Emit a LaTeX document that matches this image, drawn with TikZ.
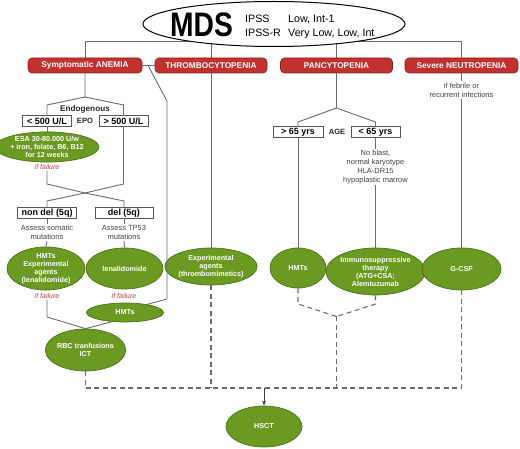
\documentclass[tikz,border=0pt]{standalone}
\usepackage{fontspec}
\setmainfont{Liberation Sans}
\usepackage{graphicx}
\usetikzlibrary{shapes.geometric,arrows.meta,backgrounds}
\definecolor{redf}{HTML}{C0312F}
\definecolor{redd}{HTML}{8E1F1D}
\definecolor{greenf}{HTML}{6B9A22}
\definecolor{greend}{HTML}{4B7216}
\definecolor{lineg}{HTML}{6A6A72}
\definecolor{boxg}{HTML}{555555}
\definecolor{noteg}{HTML}{404040}
\definecolor{failr}{HTML}{C23A3A}
\tikzset{
 conn/.style={draw=lineg, line width=0.9pt},
 dconn/.style={draw=lineg, line width=1.1pt, dash pattern=on 5pt off 3.5pt},
 arr/.style={draw=black!75, line width=1pt, -{Stealth[length=5pt,width=4pt]}},
 redbox/.style={rectangle, rounded corners=4pt, fill=redf, draw=redd, line width=0.6pt, text=white, font=\fontsize{8.3}{10}\selectfont\bfseries, minimum height=15pt, inner sep=0pt},
 wbox/.style={rectangle, draw=boxg, line width=0.9pt, fill=white, font=\fontsize{9}{10}\selectfont\bfseries, minimum height=10.5pt, inner sep=0pt},
 gell/.style={ellipse, fill=greenf, draw=greend, line width=0.7pt, text=white, font=\fontsize{7.2}{8}\selectfont\bfseries, align=center, inner sep=0pt},
 note/.style={font=\fontsize{7.5}{9.2}\selectfont, text=noteg, align=center, inner sep=1pt},
 fail/.style={font=\fontsize{7}{8}\selectfont\itshape, text=failr, inner sep=1pt},
 lab/.style={font=\fontsize{8.2}{9}\selectfont\bfseries, text=black!85, inner sep=1pt},
 ipss/.style={font=\fontsize{10.7}{12}\selectfont, anchor=base west, inner sep=0pt},
}
\begin{document}
\begin{tikzpicture}[x=1pt,y=-1pt]
\useasboundingbox (0,0) rectangle (520,449);

% top ellipse
\node[ellipse, draw=black, line width=1pt, fill=white, minimum width=262pt, minimum height=45pt] (mds) at (274,24) {};
\node[anchor=base west, inner sep=0pt, font=\fontsize{34}{36}\selectfont\bfseries] (mdst) at (170,37) {\scalebox{0.83}[1]{MDS}};
\node[ipss] (i1) at (245,23) {IPSS};
\node[ipss] (i1v) at (288,23) {Low, Int-1};
\node[ipss] (i2) at (245,37) {IPSS-R};
\node[ipss] (i2v) at (288,37) {Very Low, Low, Int};

% red boxes
\node[redbox, minimum width=114pt] (anemia) at (85,65.5) {Symptomatic ANEMIA};
\node[redbox, minimum width=112pt] (thrombo) at (211,65.5) {THROMBOCYTOPENIA};
\node[redbox, minimum width=112pt] (pancyto) at (336.5,65.5) {PANCYTOPENIA};
\node[redbox, minimum width=113pt] (neutro) at (461.5,65.5) {Severe NEUTROPENIA};

% anemia branch
\node[lab] (endo) at (85,109) {Endogenous};
\node[lab, font=\fontsize{7.6}{9}\selectfont\bfseries] (epo) at (85,121) {EPO};
\node[wbox, minimum width=49pt] (epolow) at (47,121) {< 500 U/L};
\node[wbox, minimum width=49pt] (epohigh) at (123.5,121) {> 500 U/L};
\node[gell, minimum width=92pt, minimum height=28pt] (esa) at (47,147) {ESA 30-80.000 U/w\\+ iron, folate, B6, B12\\for 12 weeks};
\node[fail] (fail1) at (47,167) {if failure};
\node[wbox, minimum width=59pt] (nondel) at (47,213) {non del (5q)};
\node[wbox, minimum width=58pt] (del) at (124,213) {del (5q)};
\node[note] (as1) at (47,232.5) {Assess somatic\\mutations};
\node[note] (as2) at (124,232.5) {Assess TP53\\mutations};
\node[gell, minimum width=78pt, minimum height=41pt] (hmtexp) at (46,268.5) {HMTs\\Experimental\\agents\\(lenalidomide)};
\node[gell, minimum width=77pt, minimum height=41pt] (lenal) at (124.5,268.5) {lenalidomide};
\node[fail] (fail3) at (47,296) {if failure};
\node[fail] (fail2) at (124,296) {if failure};
\node[gell, minimum width=77pt, minimum height=19pt] (hmtA) at (125,312.5) {HMTs};
\node[gell, minimum width=77pt, minimum height=42pt] (rbc) at (85.5,350) {RBC tranfusions\\ICT};

% thrombocytopenia branch
\node[gell, minimum width=77pt, minimum height=37pt] (expt) at (211,266.5) {Experimental\\agents\\(thrombomimetics)};

% pancytopenia branch
\node[wbox, minimum width=50pt] (age1) at (298,132) {> 65 yrs};
\node[lab, font=\fontsize{7.6}{9}\selectfont\bfseries] (age) at (337,132) {AGE};
\node[wbox, minimum width=49pt] (age2) at (375.5,132) {< 65 yrs};
\node[note] (nob) at (375.5,167) {No blast,\\normal karyotype\\HLA-DR15\\hypoplastic marrow};
\node[gell, minimum width=56pt, minimum height=40pt] (hmtB) at (298,268) {HMTs};
\node[gell, minimum width=86pt, minimum height=47pt] (immuno) at (375.5,271.5) {Immunosuppressive\\therapy\\(ATG+CSA;\\Alemtuzumab};

% neutropenia branch
\node[note] (febrile) at (461.5,90) {if febrile or\\recurrent infections};
\node[gell, minimum width=79pt, minimum height=42pt] (gcsf) at (461.5,269) {G-CSF};

% final
\node[gell, minimum width=76pt, minimum height=41pt] (hsct) at (264,426.5) {HSCT};

% helper coordinates
\coordinate (dj) at (148,65.5);
\coordinate (k1) at (167,101);
\coordinate (k2) at (167,299);
\coordinate (ra) at (85,97);
\coordinate (ral) at (47,105);
\coordinate (rar) at (123.5,105);
\coordinate (jl1) at (47,184);
\coordinate (jr1) at (123.5,184);
\coordinate (J) at (85,193);
\coordinate (jl2) at (47,201);
\coordinate (jr2) at (124,201);
\coordinate (rl) at (47,317);
\coordinate (pa) at (336.5,108);
\coordinate (pal) at (298,122);
\coordinate (par) at (375.5,122);
\coordinate (pbl) at (298,304);
\coordinate (pbr) at (375.5,304);
\coordinate (pj) at (336.5,316.5);
\coordinate (dl) at (264,388);

\begin{pgfonlayer}{background}
\draw[conn] (anemia.north) |- ([yshift=-17pt]mds.center);
\draw[conn] (neutro.north) |- ([yshift=-17pt]mds.center);
\draw[conn] (thrombo.north) -- (thrombo.north |- mds.center);
\draw[conn] (pancyto.north) -- (pancyto.north |- mds.center);
\end{pgfonlayer}

% anemia connectors
\draw[conn] (anemia.east) -- (thrombo.west);
\draw[conn] (dj) -- (k1) -- (k2) -- (hmtA.20);
\draw[conn] (anemia.south) -- (ra) -- (ral) -- (epolow.north);
\draw[conn] (ra) -- (rar) -- (epohigh.north);
\draw[conn] (epolow.south) -- (esa.north);
\draw[conn] (fail1.south) -- (jl1) -- (J) -- (jl2) -- (nondel.north);
\draw[conn] (epohigh.south) -- (jr1) -- (J) -- (jr2) -- (del.north);
\draw[conn] (nondel.south) -- (as1.north);
\draw[conn] (as1.south) -- (hmtexp.north);
\draw[conn] (del.south) -- (as2.north);
\draw[conn] (as2.south) -- (lenal.north);
\draw[conn] (fail3.south) -- (rl) -- (rbc.north);
\draw[conn] (hmtA.215) -- (rbc.north);

% thrombocytopenia
\draw[conn] (thrombo.south) -- (expt.north);

% pancytopenia
\draw[conn] (pancyto.south) -- (pa) -- (pal) -- (age1.north);
\draw[conn] (pa) -- (par) -- (age2.north);
\draw[conn] (age1.south) -- (hmtB.north);
\draw[conn] (age2.south) -- (nob.north);
\draw[conn] (nob.south) -- (immuno.north);

% neutropenia
\draw[conn] (neutro.south) -- (febrile.north);
\draw[conn] (febrile.south) -- (gcsf.north);

% dashed to HSCT
\draw[dconn] (rbc.south) |- (dl);
\draw[dconn] (gcsf.south) |- (dl);
\draw[dconn] (expt.south) -- (expt.south |- dl);
\draw[dconn] (hmtB.south) -- (pbl) -- (pj);
\draw[dconn] (immuno.south) -- (pbr) -- (pj);
\draw[dconn] (pj) -- (pj |- dl);
\draw[arr] (dl) -- (hsct.north);
\end{tikzpicture}
\end{document}
